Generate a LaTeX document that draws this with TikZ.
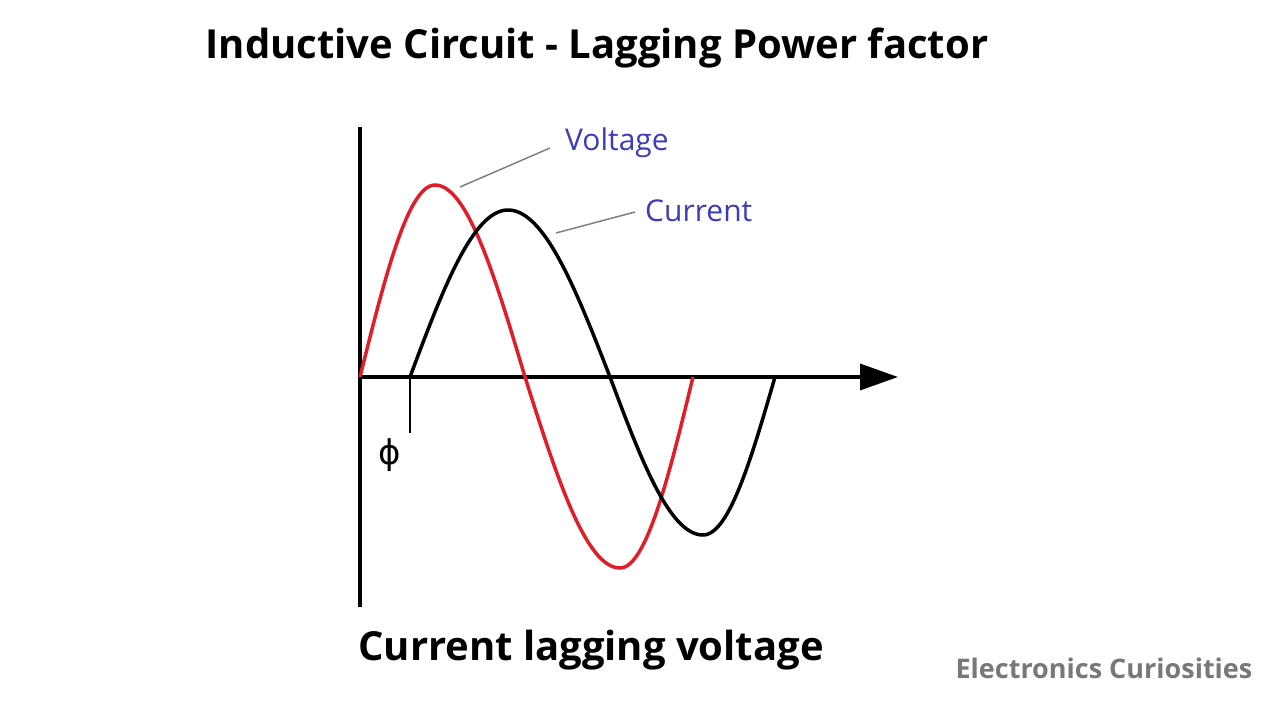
\documentclass[tikz,border=0pt]{standalone}
\usepackage{fontspec}
\setmainfont{Open Sans}
\newfontfamily\djv{DejaVu Sans}
\usetikzlibrary{arrows.meta}
\definecolor{lblue}{RGB}{60,60,185}
\definecolor{wred}{RGB}{225,30,40}
\definecolor{wmgray}{RGB}{120,120,120}
\tikzset{
  axis/.style={line width=3.5pt},
  wave/.style={line width=3.5pt, line join=round},
  leader/.style={line width=1.5pt, draw=gray},
  lbl/.style={text=lblue, font=\fontsize{30}{34}\selectfont, anchor=west, inner sep=0pt},
}
\begin{document}
\begin{tikzpicture}[x=1pt,y=-1pt]
\useasboundingbox (0,0) rectangle (1280,720);
\node[font=\bfseries\fontsize{40}{44}\selectfont] (title) at (597,48) {Inductive Circuit - Lagging Power factor};
\coordinate (o) at (360,377);
\coordinate (ytop) at (360,127);
\coordinate (ybot) at (360,607);
\coordinate (xend) at (898,377);
\draw[axis] (ytop) -- (ybot);
\draw[axis, -{Triangle[length=38pt,width=26pt]}] (o) -- (xend);
\draw[wave, wred] plot[domain=360:435, samples=40, smooth] (\x, {377-192*sin((\x-360)/75*90)})
  -- plot[domain=435:525, samples=40, smooth] (\x, {377-192*cos((\x-435)/90*90)})
  -- plot[domain=525:620, samples=40, smooth] (\x, {377+191*sin((\x-525)/95*90)})
  -- plot[domain=620:693, samples=40, smooth] (\x, {377+191*cos((\x-620)/73*90)});
\draw[wave, black] plot[domain=410:508, samples=40, smooth] (\x, {377-167*sin((\x-410)/98*90)})
  -- plot[domain=508:610, samples=40, smooth] (\x, {377-167*cos((\x-508)/102*90)})
  -- plot[domain=610:703, samples=40, smooth] (\x, {377+158*sin((\x-610)/93*90)})
  -- plot[domain=703:775, samples=40, smooth] (\x, {377+158*cos((\x-703)/72*90)});
\coordinate (phitop) at (410,377);
\coordinate (phibot) at (410,433);
\draw[line width=2pt] (phitop) -- (phibot);
\node[font=\djv\fontsize{34}{38}\selectfont] (phi) at (390,455) {ϕ};
\node[lbl] (volt) at (565,143) {Voltage};
\node[lbl] (curr) at (645,211) {Current};
\coordinate (vp) at (460,187);
\coordinate (cp) at (556,233);
\coordinate (ve) at (550,148);
\coordinate (ce) at (635,212);
\draw[leader] (vp) -- (ve);
\draw[leader] (cp) -- (ce);
\node[font=\bfseries\fontsize{40}{44}\selectfont] (cap) at (591,650) {Current lagging voltage};
\node[font=\bfseries\fontsize{27}{31}\selectfont, text=wmgray] (brand) at (1104,668) {Electronics Curiosities};
\end{tikzpicture}
\end{document}
